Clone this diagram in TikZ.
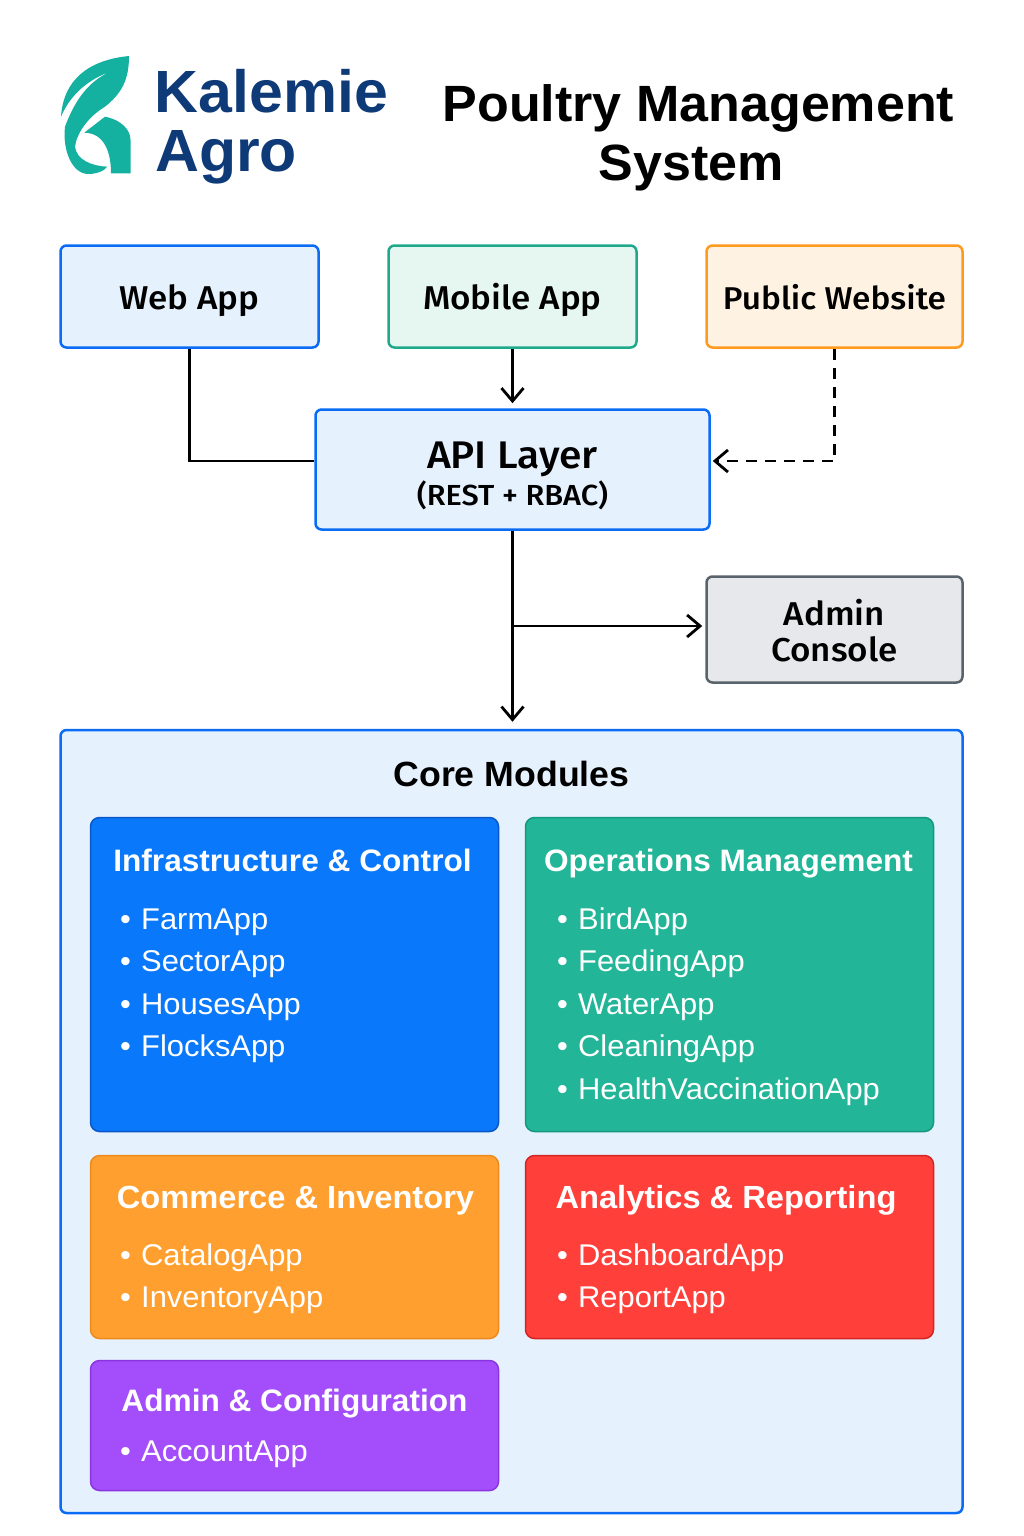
\documentclass[tikz,border=0pt]{standalone}
\usepackage{fontspec}
\setmainfont[FakeStretch=1.03]{Liberation Sans}
\newfontfamily\medfont[UprightFont={* Medium},FakeStretch=1.06]{Fira Sans}
\newfontfamily\boldfont[FakeStretch=1.02,Ligatures=TeX]{Liberation Sans Bold}
\usetikzlibrary{arrows.meta, positioning, calc}
\definecolor{cblue}{HTML}{0A6CF5}
\definecolor{cgreen}{HTML}{1FA98B}
\definecolor{corange}{HTML}{FF9A1F}
\definecolor{cgray}{HTML}{59636B}
\definecolor{cnavy}{HTML}{0E3A78}
\definecolor{cteal}{HTML}{14B1A0}
\definecolor{lightblue}{HTML}{E6F1FE}
\definecolor{lightgreen}{HTML}{E6F7F2}
\definecolor{lightorange}{HTML}{FEF3E3}
\definecolor{lightgray}{HTML}{E6E8EB}
\definecolor{infrafill}{HTML}{0A78FB}
\definecolor{infraline}{HTML}{0A58C8}
\definecolor{opsfill}{HTML}{22B597}
\definecolor{opsline}{HTML}{14997F}
\definecolor{commfill}{HTML}{FF9F2F}
\definecolor{commline}{HTML}{EE8A1A}
\definecolor{anafill}{HTML}{FF3F3A}
\definecolor{analine}{HTML}{D42525}
\definecolor{cfgfill}{HTML}{A44DFB}
\definecolor{cfgline}{HTML}{8A35DD}
\newcommand{\boxstrut}[1]{\rule[-8pt]{0pt}{#1}}
\tikzset{
  appbox/.style={draw, rounded corners=6, line width=2.5, align=center, text=black,
    inner sep=0, font=\medfont\fontsize{33}{36}\selectfont},
  modbox/.style={draw, rounded corners=9, line width=1.5, inner sep=0},
  modtitle/.style={anchor=base, inner sep=0, text=white, font=\boldfont\fontsize{31}{36}\selectfont},
  widetitle/.style={modtitle, font=\boldfont\fontsize{32}{36}\selectfont},
  moditem/.style={anchor=base west, inner sep=0, text=white, font=\fontsize{30}{36}\selectfont},
  link/.style={line width=2.8, black},
  tip/.style={-{Straight Barb[length=13pt, width=22pt, line width=2.8pt]}, shorten >=#1},
  tip/.default=5pt,
  brand/.style={anchor=base west, inner sep=0, text=cnavy, font=\boldfont\fontsize{59.6}{64}\selectfont},
  heading/.style={anchor=base, inner sep=0, text=black, font=\boldfont\fontsize{51}{60}\selectfont}
}
\begin{document}
\begin{tikzpicture}[x=1pt, y=-1pt]
  \useasboundingbox (0,0) rectangle (1024,1536);

  % Logo leaf
  \fill[cteal] (129,56) .. controls (88.3,60) and (63.3,80) .. (61,116.7)
    .. controls (71,93) and (90,79) .. (110,71.7)
    .. controls (88.3,81.7) and (75,100) .. (65,126.7)
    .. controls (62.3,150) and (72,174) .. (88.3,174)
    .. controls (98,174) and (105,170) .. (107.3,166.7)
    .. controls (91.7,166) and (76.7,160) .. (75,146.7)
    .. controls (76.7,133) and (88.3,116.7) .. (105,106.7)
    .. controls (121.7,93.3) and (129,80) .. (129,56) -- cycle;
  \fill[cteal] (84.3,132.7) -- (105,116.7)
    .. controls (121.7,120) and (130.5,130) .. (130.5,140) -- (130.5,173.3) -- (111,173.3)
    .. controls (111,153.3) and (105,133) .. (84.3,132.7) -- cycle;

  % Brand and title
  \node[brand] (kalemie) at (154.5,113) {Kalemie};
  \node[brand] (agro) at (155,171) {Agro};
  \node[heading] (title1) at (698.5,122) {Poultry Management};
  \node[heading] (title2) at (691,180) {System};

  % Clients
  \node[appbox, draw=cblue, fill=lightblue, minimum width=258, minimum height=102] (web) at (189.5,296.5) {\boxstrut{41pt}Web App};
  \node[appbox, draw=cgreen, fill=lightgreen, minimum width=248, minimum height=102] (mobile) at (512.5,296.5) {\boxstrut{41pt}Mobile App};
  \node[appbox, draw=corange, fill=lightorange, minimum width=256, minimum height=102, font=\medfont\fontsize{31.5}{36}\selectfont] (public) at (834.5,296.5) {\boxstrut{41pt}Public Website};

  % API and admin
  \node[appbox, draw=cblue, fill=lightblue, minimum width=394, minimum height=120] (api) at (512.5,469.5) {%
    \boxstrut{47pt}{\fontsize{38.5}{42}\selectfont API Layer}\\[1pt]{\fontsize{29}{32}\selectfont (REST + RBAC)}};
  \node[appbox, draw=cgray, fill=lightgray, minimum width=256, minimum height=106] (admin) at (834.5,629.5) {\rule{0pt}{28pt}Admin\\Console};

  % Core Modules panel
  \node[appbox, draw=cblue, fill=lightblue, minimum width=902, minimum height=783] (core) at (511.5,1121.5) {};
  \node[heading, font=\boldfont\fontsize{35}{42}\selectfont] (coretitle) at (511.5,786) {Core Modules};

  % Module boxes
  \node[modbox, draw=infraline, fill=infrafill, minimum width=408, minimum height=314] (infra) at (294.5,974.5) {};
  \node[modbox, draw=opsline, fill=opsfill, minimum width=408, minimum height=314] (ops) at (729.5,974.5) {};
  \node[modbox, draw=commline, fill=commfill, minimum width=408, minimum height=183] (comm) at (294.5,1247) {};
  \node[modbox, draw=analine, fill=anafill, minimum width=408, minimum height=183] (ana) at (729.5,1247) {};
  \node[modbox, draw=cfgline, fill=cfgfill, minimum width=408, minimum height=130] (cfg) at (294.5,1425.5) {};

  % Module titles
  \node[modtitle] (infratitle) at (292.5,871) {Infrastructure \& Control};
  \node[modtitle] (opstitle) at (728.5,871) {Operations Management};
  \node[widetitle] (commtitle) at (295.5,1208) {Commerce \& Inventory};
  \node[widetitle] (anatitle) at (726,1208) {Analytics \& Reporting};
  \node[modtitle] (cfgtitle) at (294.5,1411) {Admin \& Configuration};

  % Module items
  \foreach \name [count=\i from 0] in {FarmApp,SectorApp,HousesApp,FlocksApp}{
    \node[moditem] (infra\i) at (120,929+42.6*\i) {\makebox[21pt][l]{\textbullet}\name};
  }
  \foreach \name [count=\i from 0] in {BirdApp,FeedingApp,WaterApp,CleaningApp,HealthVaccinationApp}{
    \node[moditem] (ops\i) at (557,929+42.6*\i) {\makebox[21pt][l]{\textbullet}\name};
  }
  \foreach \name [count=\i from 0] in {CatalogApp,InventoryApp}{
    \node[moditem] (comm\i) at (120,1265+42.6*\i) {\makebox[21pt][l]{\textbullet}\name};
  }
  \foreach \name [count=\i from 0] in {DashboardApp,ReportApp}{
    \node[moditem] (ana\i) at (557,1265+42.6*\i) {\makebox[21pt][l]{\textbullet}\name};
  }
  \node[moditem] (cfg0) at (120,1461) {\makebox[21pt][l]{\textbullet}AccountApp};

  % Connectors
  \coordinate (branch) at (api.south |- 0,626);
  \coordinate (apileft) at (api.west |- 0,461);
  \coordinate (apiright) at (api.east |- 0,461);
  \draw[link] (web.south) |- (apileft);
  \draw[link, tip] (mobile.south) -- (api.north);
  \draw[link, tip=2pt, dashed, dash pattern=on 11pt off 8pt] (public.south) |- (apiright);
  \draw[link, tip=7pt] (api.south) -- (api.south |- core.north);
  \draw[link, tip=3pt] (branch) -- (branch -| admin.west);
\end{tikzpicture}
\end{document}
